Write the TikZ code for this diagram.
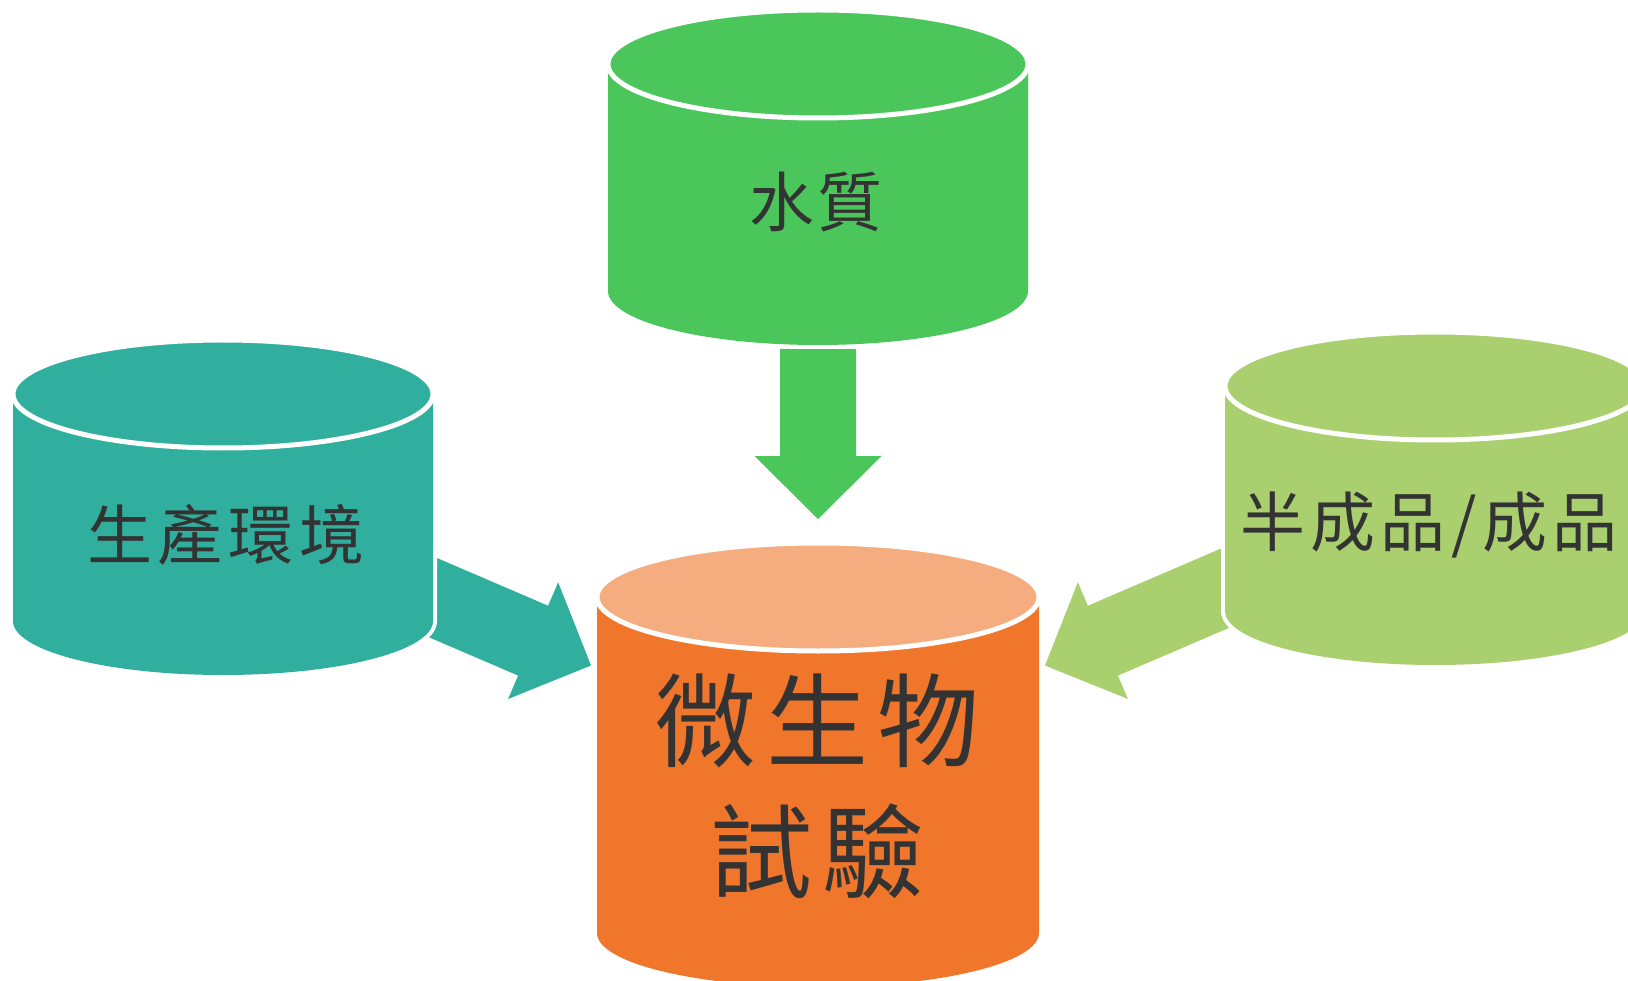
\documentclass[tikz,border=0pt]{standalone}
\usepackage{fontspec}
\newfontfamily\cjk{Noto Sans CJK TC}
\usetikzlibrary{calc}
\definecolor{cGreen}{HTML}{4AC65A}
\definecolor{cTeal}{HTML}{31AF9E}
\definecolor{cLime}{HTML}{A9CF6E}
\definecolor{cOrange}{HTML}{F0762C}
\definecolor{cOrangeTop}{HTML}{F5AD80}
\definecolor{txt}{HTML}{333333}
\tikzset{
  lbl/.style={font=\cjk\fontsize{65}{70}\selectfont, text=txt, inner sep=0pt},
  biglbl/.style={font=\cjk\fontsize{102}{131}\selectfont, text=txt, inner sep=0pt, align=center},
  rim/.style={draw=white, line width=5pt},
  halo/.style={draw=white, line width=8pt, line join=round},
}
% #1 name, #2 cx, #3 top-centre y, #4 bottom-centre y, #5 rx, #6 ry, #7 body colour, #8 top colour
\newcommand\drumshape[8]{%
  \path[halo] (#2-#5,#3) -- (#2-#5,#4) arc[start angle=180,end angle=360,x radius=#5pt,y radius=#6pt] -- (#2+#5,#3);
  \fill[#7] (#2-#5,#3) -- (#2-#5,#4) arc[start angle=180,end angle=360,x radius=#5pt,y radius=#6pt] -- (#2+#5,#3) -- cycle;
  \path[fill=#8, rim] (#2,#3) ellipse[x radius=#5pt, y radius=#6pt];
  \coordinate (#1) at (#2,{(#3+#4)/2});
}
% #1 from, #2 tip, #3 colour
\newcommand\fatarrow[3]{%
  \coordinate (#1-#2-h) at ($(#2)!63pt!(#1)$);
  \fill[#3] ($(#1)!38pt!90:(#2)$) -- ($(#1-#2-h)!38pt!90:(#2)$) -- ($(#1-#2-h)!63.5pt!90:(#2)$) -- (#2)
    -- ($(#1-#2-h)!63.5pt!-90:(#2)$) -- ($(#1-#2-h)!38pt!-90:(#2)$) -- ($(#1)!38pt!-90:(#2)$) -- cycle;
}
\begin{document}
\begin{tikzpicture}[x=1pt,y=-1pt]
\path[use as bounding box, clip] (0,0) rectangle (1628,981);
\fill[white] (0,0) rectangle (1628,981);
% arrow end points
\coordinate (wqS) at (818,349);
\coordinate (wqT) at (818,519);
\coordinate (envS) at (315,547);
\coordinate (envT) at (591,665.5);
\coordinate (prodS) at (1321,547);
\coordinate (prodT) at (1045,665.5);
\fatarrow{wqS}{wqT}{cGreen}
\fatarrow{envS}{envT}{cTeal}
\fatarrow{prodS}{prodT}{cLime}
% cylinders
\drumshape{water}{818}{64}{291}{210}{54}{cGreen}{cGreen}
\drumshape{env}{223}{394}{621}{210}{54}{cTeal}{cTeal}
\drumshape{prod}{1435}{386}{611}{210}{54}{cLime}{cLime}
\drumshape{micro}{818}{597}{933}{221}{54}{cOrange}{cOrangeTop}
% labels
\node[lbl] (waterT) at (816,202) {水\hspace{3pt}質};
\node[lbl] (envT2) at (226,535) {生\hspace{6pt}產\hspace{6pt}環\hspace{6pt}境};
\node[lbl, anchor=west] (prodT2) at (1240,525) {半\hspace{5pt}成\hspace{5pt}品\hspace{6pt}/\hspace{6pt}成\hspace{5pt}品};
\node[biglbl] (microT) at (817,786.5) {微\hspace{10pt}生\hspace{10pt}物\\試\hspace{10pt}驗};
\end{tikzpicture}
\end{document}
